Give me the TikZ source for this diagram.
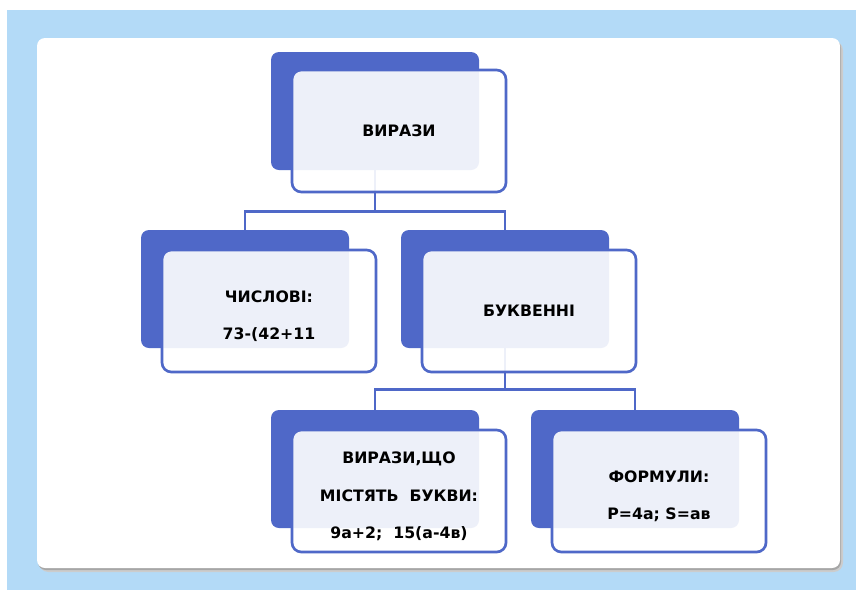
\documentclass[tikz,border=0pt]{standalone}
\usepackage{fontspec}
\setmainfont{DejaVu Sans}
\usetikzlibrary{calc}
\definecolor{skyblue}{HTML}{B3DAF7}
\definecolor{boxblue}{HTML}{4F68C8}
\newcommand{\lowstrut}{\rule{0pt}{17pt}}
\tikzset{
  backbox/.style={fill=boxblue, rounded corners=6pt, minimum width=156pt,
    minimum height=88.5pt, inner sep=0pt},
  frontbox/.style={draw=boxblue, line width=2pt, fill=white, fill opacity=0.9,
    text opacity=1, rounded corners=7pt, minimum width=160.5pt, minimum height=91.5pt,
    align=center, font=\bfseries\fontsize{11.8}{28}\selectfont},
  link/.style={draw=boxblue, line width=2pt}
}
\begin{document}
\begin{tikzpicture}[x=0.75pt,y=-0.75pt]
\useasboundingbox (0,0) rectangle (856,590);
\fill[white] (0,0) rectangle (856,590);
\fill[skyblue] (7,10) rectangle (856,590);
% card
\fill[black!20, rounded corners=7pt] (39,41) rectangle (843,572);
\fill[black!35, rounded corners=6pt] (38,40) rectangle (841,570);
\fill[white, rounded corners=6pt] (37,38) rectangle (840,568);
% back boxes
\node[backbox] (viraz) at (375,111) {};
\node[backbox] (chysl) at (245,289) {};
\node[backbox] (bukv) at (505,289) {};
\node[backbox] (bukvy) at (375,469) {};
\node[backbox] (formul) at (635,469) {};
% links
\draw[link] (viraz.south) -- ++(0,41);
\draw[link] (chysl.north) -- ++(0,-18) -| (bukv.north);
\draw[link] (bukv.south) -- ++(0,42);
\draw[link] (bukvy.north) -- ++(0,-20) -| (formul.north);
% front boxes
\node[frontbox] (virazF) at (399,131) {ВИРАЗИ};
\node[frontbox] (chyslF) at (269,311) {\lowstrut ЧИСЛОВІ:\\73-(42+11};
\node[frontbox] (bukvF) at (529,311) {БУКВЕННІ};
\node[frontbox] (bukvyF) at (399,491) {\lowstrut ВИРАЗИ,ЩО\\МІСТЯТЬ\ \ БУКВИ:\\9а+2;\ \ 15(а-4в)};
\node[frontbox] (formulF) at (659,491) {\lowstrut ФОРМУЛИ:\\Р=4а; S=ав};
\end{tikzpicture}
\end{document}
